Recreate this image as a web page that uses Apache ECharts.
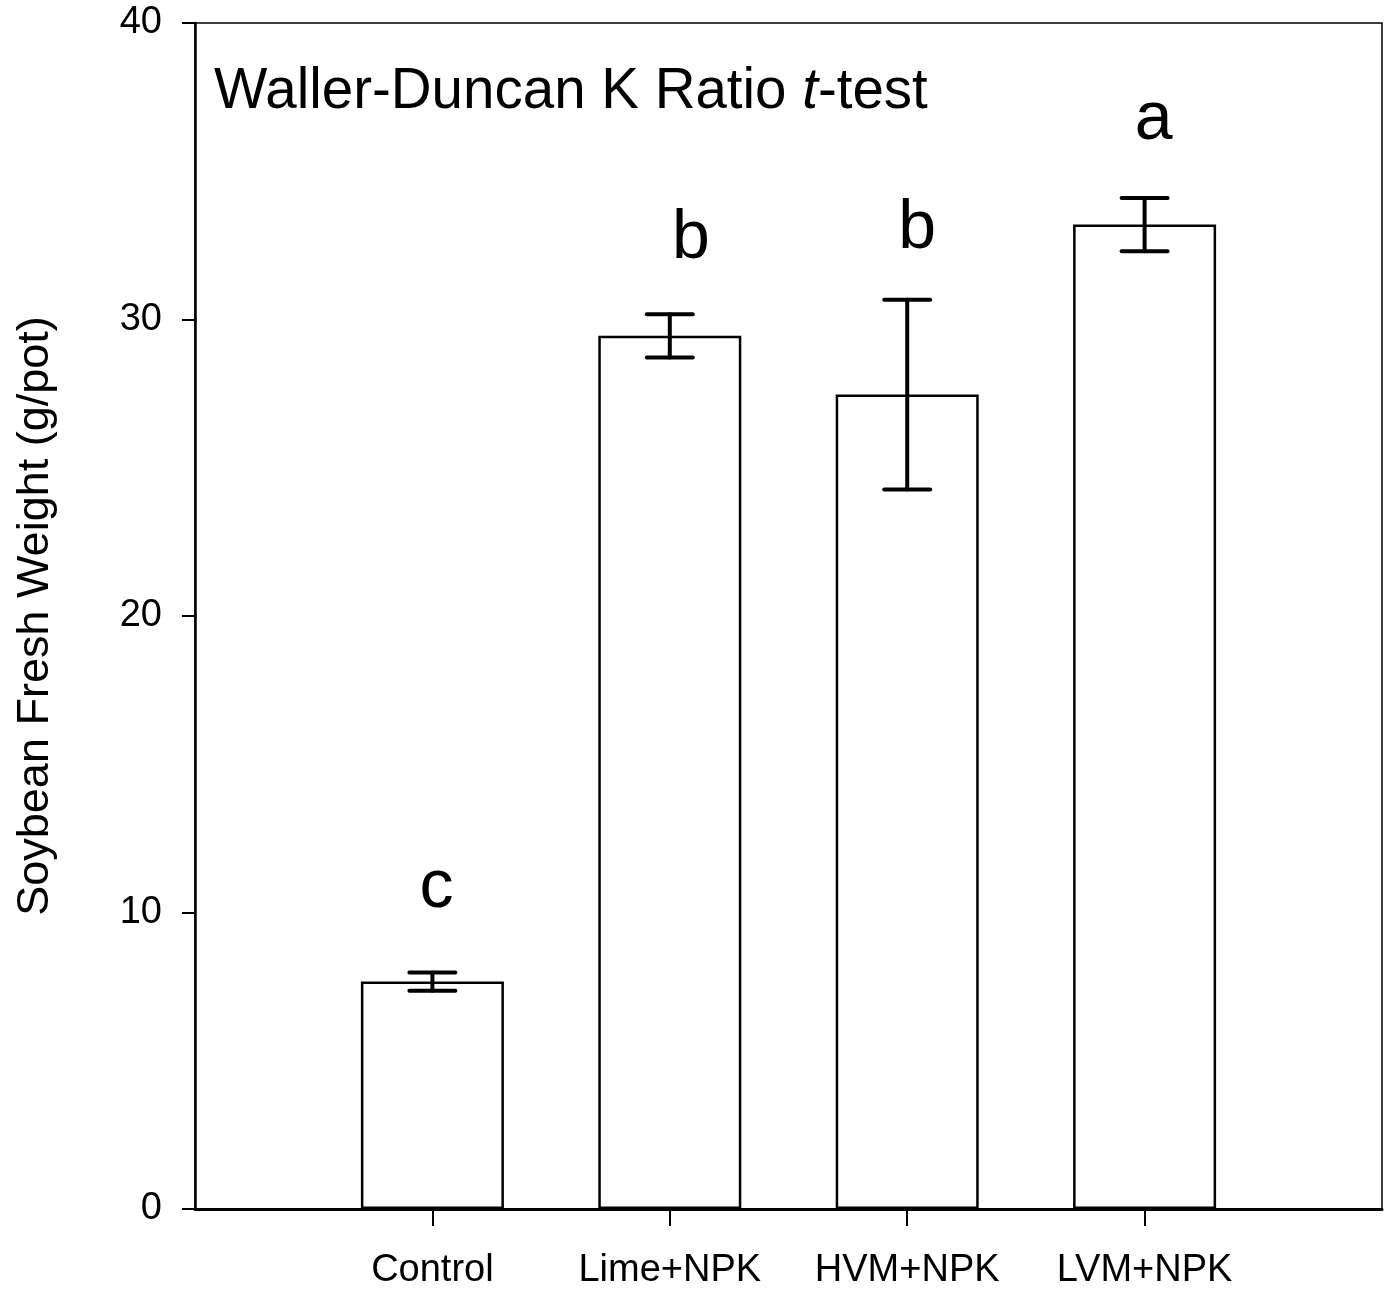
<!DOCTYPE html>
<html>
<head>
<meta charset="utf-8">
<script src="https://cdn.jsdelivr.net/npm/echarts@6/dist/echarts.min.js"></script>
<style>
html,body{margin:0;padding:0;background:#fff;}
#chart{width:1389px;height:1302px;}
</style>
</head>
<body>
<div id="chart"></div>
<script>
// ---- data ----
const categories = ['Control', 'Lime+NPK', 'HVM+NPK', 'LVM+NPK'];
const means = [7.67, 29.45, 27.47, 33.2];
const errors = [0.31, 0.73, 3.2, 0.9];
const letters = ['c', 'b', 'b', 'a'];
const letterY = [10.14, 32.01, 32.35, 36.02];
const yTicks = [0, 10, 20, 30, 40];

// ---- build ----
const FONT = '"Liberation Sans", Arial, Helvetica, sans-serif';
const cats = [''].concat(categories).concat(['']);
const barData = ['-'].concat(means).concat(['-']);
const errData = means.map((m, i) => [i + 1, m, errors[i]]);
const letterData = letters.map((l, i) => [i + 1, letterY[i], l]);
const letterDx = [4, 21, 10, 9];
const LETTER_FS = 68;

const chart = echarts.init(document.getElementById('chart'), null, {renderer: 'canvas'});
chart.setOption({
  animation: false,
  backgroundColor: '#ffffff',
  title: {
    text: '{n|Waller-Duncan K Ratio }{i|t}{n|-test}',
    left: 214, top: 64, padding: 0,
    textStyle: {
      fontWeight: 'normal',
      rich: {
        n: {fontSize: 56.5, fontFamily: FONT, color: '#000', fontWeight: 'normal'},
        i: {fontSize: 56.5, fontFamily: FONT, color: '#000', fontWeight: 'normal', fontStyle: 'italic'}
      }
    }
  },
  grid: {
    left: 195, right: 7, top: 23, bottom: 93,
    show: true, borderColor: '#000', borderWidth: 1.5, backgroundColor: 'transparent'
  },
  graphic: [{
    type: 'text',
    x: 36, y: 616,
    rotation: Math.PI / 2,
    style: {
      text: 'Soybean Fresh Weight (g/pot)',
      fontSize: 45, fontFamily: FONT, fill: '#000',
      align: 'center', verticalAlign: 'middle'
    }
  }],
  xAxis: {
    type: 'category',
    data: cats,
    boundaryGap: false,
    axisLine: {lineStyle: {color: '#000', width: 3}},
    axisTick: {
      length: 17, lineStyle: {color: '#000', width: 2},
      interval: (idx, val) => val !== ''
    },
    axisLabel: {fontSize: 38, fontFamily: FONT, color: '#000', margin: 43, interval: 0},
    splitLine: {show: false}
  },
  yAxis: {
    type: 'value',
    min: yTicks[0], max: yTicks[yTicks.length - 1], interval: 10,
    axisLine: {show: true, lineStyle: {color: '#000', width: 2.5}},
    axisTick: {show: true, length: 13, lineStyle: {color: '#000', width: 2}},
    axisLabel: {fontSize: 38, fontFamily: FONT, color: '#000', margin: 33},
    splitLine: {show: false}
  },
  series: [
    {
      type: 'bar',
      data: barData,
      barWidth: 143,
      itemStyle: {color: '#fff', borderColor: '#000', borderWidth: 2.5},
      z: 2
    },
    {
      type: 'custom',
      data: errData,
      z: 5,
      renderItem: function (params, api) {
        const x = api.value(0), m = api.value(1), e = api.value(2);
        const top = api.coord([x, m + e]);
        const bot = api.coord([x, m - e]);
        const hw = 23;
        const st = {stroke: '#000', lineWidth: 4, lineCap: 'round'};
        return {
          type: 'group',
          children: [
            {type: 'line', shape: {x1: top[0], y1: top[1], x2: bot[0], y2: bot[1]}, style: st},
            {type: 'line', shape: {x1: top[0] - hw, y1: top[1], x2: top[0] + hw, y2: top[1]}, style: st},
            {type: 'line', shape: {x1: bot[0] - hw, y1: bot[1], x2: bot[0] + hw, y2: bot[1]}, style: st}
          ]
        };
      }
    },
    {
      type: 'custom',
      data: letterData,
      z: 6,
      renderItem: function (params, api) {
        const p = api.coord([api.value(0), api.value(1)]);
        return {
          type: 'text',
          x: p[0] + letterDx[params.dataIndex],
          y: p[1] - 0.3465 * LETTER_FS + 3,
          style: {
            text: letters[params.dataIndex],
            fontSize: LETTER_FS, fontFamily: FONT, fill: '#000',
            align: 'center', verticalAlign: 'middle'
          }
        };
      }
    }
  ]
});
</script>
</body>
</html>
